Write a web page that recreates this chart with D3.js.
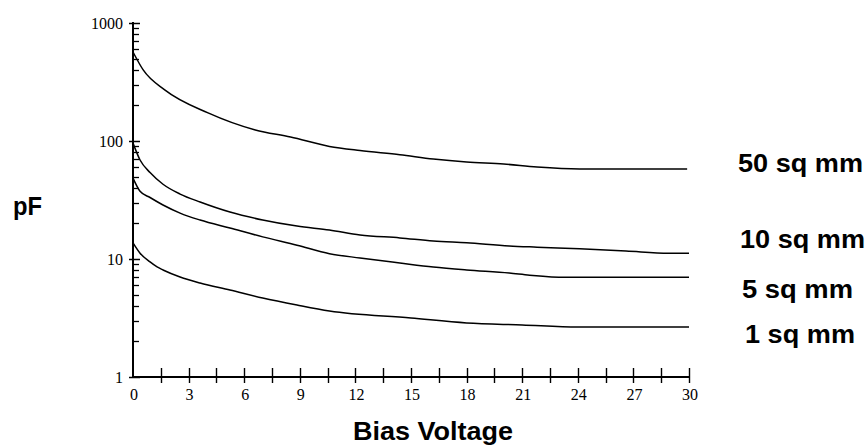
<!DOCTYPE html>
<html><head><meta charset="utf-8">
<script src="https://cdn.jsdelivr.net/npm/d3@7"></script>
<style>html,body{margin:0;padding:0;background:#fff;}svg{display:block;}</style>
</head><body>
<svg id="chart" width="868" height="445"></svg>
<script>
// ---- data ----
const xTickValues = [0, 3, 6, 9, 12, 15, 18, 21, 24, 27, 30];
const yTickValues = [1, 10, 100, 1000];
const seriesNames = ["50 sq mm", "10 sq mm", "5 sq mm", "1 sq mm"];

const volts50 = [0, 0.55, 1.73, 4.05, 6.6, 8.5, 10.6, 12.25, 14.4, 16.2, 18.0, 20.0, 21.8, 24.1, 29.9];
const pf50    = [568, 400, 270, 173, 124, 108, 90, 83, 76.5, 70.3, 66.3, 63.8, 60.2, 58, 58];

const volts10 = [0, 0.38, 0.92, 1.62, 2.54, 3.62, 5.23, 7.0, 8.85, 10.6, 12.25, 14.4, 16.2, 18.0, 20.3, 21.8, 24.1, 26.6, 28.9, 30];
const pf10    = [96, 69, 54, 43, 35.5, 30.4, 25.0, 21.4, 19.0, 17.6, 16.0, 15.1, 14.2, 13.7, 12.9, 12.6, 12.2, 11.7, 11.2, 11.2];

const volts5  = [0, 0.38, 0.92, 1.62, 2.54, 3.62, 5.23, 7.0, 8.85, 10.6, 12.25, 14.4, 16.2, 18.0, 20.3, 21.4, 23.3, 30];
const pf5     = [48.5, 37.5, 33.2, 28.7, 24.5, 21.4, 18.3, 15.4, 13.1, 11.1, 10.2, 9.25, 8.55, 8.07, 7.6, 7.3, 7.0, 7.0];

const volts1  = [0, 0.38, 0.92, 1.30, 1.62, 2.54, 3.62, 5.23, 7.0, 8.85, 10.6, 15, 18, 21, 24, 30];
const pf1     = [13.7, 11.2, 9.44, 8.56, 8.07, 7.04, 6.26, 5.46, 4.67, 4.07, 3.62, 3.16, 2.87, 2.76, 2.65, 2.65];

// ---- layout ----
const svg = d3.select("#chart");
const x = d3.scaleLinear().domain([0, 30]).range([133, 689]);
const y = d3.scaleLog().domain([1, 1000]).range([377, 23]);

const series = [
  {name: seriesNames[0], v: volts50, p: pf50, lx: 738, ly: 172, lw: 125},
  {name: seriesNames[1], v: volts10, p: pf10, lx: 740, ly: 248, lw: 125},
  {name: seriesNames[2], v: volts5,  p: pf5,  lx: 742, ly: 298, lw: 111},
  {name: seriesNames[3], v: volts1,  p: pf1,  lx: 745, ly: 343, lw: 110}
];

// y minor ticks
const minor = [];
for (let d = 1; d < 1000; d *= 10) for (let m = 2; m <= 9; m++) minor.push(d * m);
svg.append("g").selectAll("line").data(minor).join("line")
  .attr("x1", 133).attr("x2", 139)
  .attr("y1", d => Math.round(y(d)) + 0.5).attr("y2", d => Math.round(y(d)) + 0.5)
  .attr("stroke", "#000").attr("stroke-width", 1.3);

// y major ticks
svg.append("g").selectAll("line").data(yTickValues).join("line")
  .attr("x1", 129).attr("x2", 140)
  .attr("y1", d => Math.round(y(d)) + 0.5).attr("y2", d => Math.round(y(d)) + 0.5)
  .attr("stroke", "#000").attr("stroke-width", 1.5);

svg.append("g").selectAll("text").data(yTickValues).join("text")
  .attr("x", 123).attr("y", d => y(d) + 6)
  .attr("text-anchor", "end")
  .attr("font-family", "'Liberation Serif', serif").attr("font-size", 16)
  .text(d => d);

// x ticks every 1.5
const xMinor = d3.range(0, 31, 1.5).filter(v => v > 0);
svg.append("g").selectAll("line").data(xMinor).join("line")
  .attr("x1", d => Math.round(x(d)) + 0.5).attr("x2", d => Math.round(x(d)) + 0.5)
  .attr("y1", 368).attr("y2", 383)
  .attr("stroke", "#000").attr("stroke-width", 1.4);

svg.append("g").selectAll("text").data(xTickValues).join("text")
  .attr("x", d => x(d) + 1).attr("y", 400)
  .attr("text-anchor", "middle")
  .attr("font-family", "'Liberation Serif', serif").attr("font-size", 16)
  .text(d => d);

// axes
svg.append("line").attr("x1", 133).attr("x2", 133).attr("y1", 22).attr("y2", 378)
  .attr("stroke", "#000").attr("stroke-width", 2);
svg.append("line").attr("x1", 132).attr("x2", 690).attr("y1", 377).attr("y2", 377)
  .attr("stroke", "#000").attr("stroke-width", 2);

// curves
const line = d3.line().x(d => x(d[0])).y(d => y(d[1])).curve(d3.curveMonotoneX);
svg.append("g").selectAll("path").data(series).join("path")
  .attr("d", s => line(s.v.map((v, i) => [v, s.p[i]])))
  .attr("fill", "none").attr("stroke", "#000").attr("stroke-width", 1.5);

// series labels
svg.append("g").selectAll("text").data(series).join("text")
  .attr("x", s => s.lx).attr("y", s => s.ly)
  .attr("font-family", "'Liberation Sans', Arial, sans-serif").attr("font-weight", "bold")
  .attr("font-size", 25)
  .attr("textLength", s => s.lw).attr("lengthAdjust", "spacingAndGlyphs")
  .text(s => s.name);

// axis titles
svg.append("text").attr("x", 13).attr("y", 215)
  .attr("font-family", "'Liberation Sans', Arial, sans-serif").attr("font-weight", "bold")
  .attr("font-size", 25).attr("textLength", 29).attr("lengthAdjust", "spacingAndGlyphs")
  .text("pF");
svg.append("text").attr("x", 353).attr("y", 440)
  .attr("font-family", "'Liberation Sans', Arial, sans-serif").attr("font-weight", "bold")
  .attr("font-size", 25).attr("textLength", 160).attr("lengthAdjust", "spacingAndGlyphs")
  .text("Bias Voltage");
</script>
</body></html>
